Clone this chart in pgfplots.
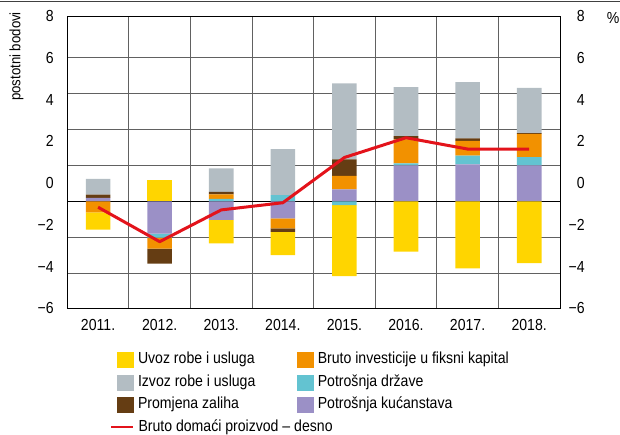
\documentclass[border=0pt]{standalone}
\usepackage{pgfplots}
\usepackage{pgfplotstable}
\pgfplotsset{compat=1.18}
\usepackage{fontspec}
\setmainfont{Liberation Sans}[FakeStretch=0.88]

\definecolor{cUvoz}{HTML}{FFD500}
\definecolor{cIzvoz}{HTML}{B3BDC3}
\definecolor{cZal}{HTML}{653D13}
\definecolor{cInv}{HTML}{F29100}
\definecolor{cDrz}{HTML}{63C3D1}
\definecolor{cKuc}{HTML}{9B90C6}
\definecolor{cBdp}{HTML}{E3131B}

% positive contributions (stacked upward from zero)
\pgfplotstableread{
x kuc drz inv zal izv uvo
0 0.19 0    0    0.18 0.88 0
1 0    0    0    0    0    1.19
2 0    0.13 0.26 0.14 1.30 0
3 0    0.35 0    0    2.56 0
4 0.67 0    0.74 0.93 4.23 0
5 2.00 0.11 1.34 0.18 2.73 0
6 2.06 0.48 0.82 0.15 3.12 0
7 2.00 0.46 1.30 0.04 2.51 0
}\posdata

% negative contributions (stacked downward from zero)
\pgfplotstableread{
x kuc drz inv zal izv uvo
0 0     0     -0.62 0     0 -0.96
1 -1.80 -0.22 -0.61 -0.84 0 0
2 -1.04 0     0     0     0 -1.30
3 -0.95 0     -0.56 -0.19 0 -1.30
4 0     -0.21 0     0     0 -3.96
5 0     0     0     0     0 -2.81
6 0     0     0     0     0 -3.73
7 0     0     0     0     0 -3.45
}\negdata

\pgfplotstableread{
x bdp
0 -0.33
1 -2.25
2 -0.48
3 -0.08
4 2.44
5 3.54
6 2.91
7 2.91
}\bdpdata

\pgfplotsset{
  base/.style={at={(67.3pt,125.7pt)}, anchor=south west, scale only axis,
    width=492.7pt, height=292.3pt, xmin=-0.5, xmax=7.5,
    font=\fontsize{16}{19}\selectfont},
  barax/.style={ybar stacked, bar width=24.6pt, ymin=-5.96, ymax=10.32},
}

\begin{document}
\begin{tikzpicture}
\useasboundingbox (0,0) rectangle (620pt,434pt);
\draw[black!75, line width=0.9pt] (0,432.3pt) -- (620pt,432.3pt);

% main axis: grid, frame, x labels, positive bars
\begin{axis}[base, barax,
  xtick={0,...,7},
  xticklabels={2011.,2012.,2013.,2014.,2015.,2016.,2017.,2018.},
  xticklabel style={inner sep=0pt, anchor=north, yshift=-11pt},
  minor xtick={0.5,1.5,...,6.5}, xminorgrids=true,
  ytick={-4,-2,2,4,6,8}, yticklabels={,,,,,}, ymajorgrids=true,
  extra y ticks={0}, extra y tick labels={},
  extra y tick style={grid style={black, line width=0.9pt}},
  major tick length=0pt, minor tick length=0pt,
  grid style={black!62, line width=0.9pt},
  minor grid style={black!62, line width=0.9pt},
  axis line style={black, line width=0.9pt},
]
\addplot[fill=cKuc, draw=none] table[x=x, y=kuc]{\posdata};
\addplot[fill=cDrz, draw=none] table[x=x, y=drz]{\posdata};
\addplot[fill=cInv, draw=none] table[x=x, y=inv]{\posdata};
\addplot[fill=cZal, draw=none] table[x=x, y=zal]{\posdata};
\addplot[fill=cIzvoz, draw=none] table[x=x, y=izv]{\posdata};
\addplot[fill=cUvoz, draw=none] table[x=x, y=uvo]{\posdata};
\end{axis}

% negative bars
\begin{axis}[base, barax, hide axis]
\addplot[fill=cKuc, draw=none] table[x=x, y=kuc]{\negdata};
\addplot[fill=cDrz, draw=none] table[x=x, y=drz]{\negdata};
\addplot[fill=cInv, draw=none] table[x=x, y=inv]{\negdata};
\addplot[fill=cZal, draw=none] table[x=x, y=zal]{\negdata};
\addplot[fill=cIzvoz, draw=none] table[x=x, y=izv]{\negdata};
\addplot[fill=cUvoz, draw=none] table[x=x, y=uvo]{\negdata};
\end{axis}

% GDP line and legend
\begin{axis}[base, ymin=-5.96, ymax=10.32, hide axis,
  legend columns=2, legend cell align=left,
  legend style={at={(0.0867,-0.1495)}, anchor=north west, draw=none, fill=none,
    inner sep=0pt, outer sep=0pt, row sep=7.2pt, column sep=4pt,
    font=\fontsize{16}{19}\selectfont,
    nodes={inner sep=0pt, text height=11.5pt, text depth=3.5pt},
    /tikz/column 2/.append style={column sep=42pt}},
]
\addlegendimage{legend image code/.code={\fill[cUvoz] (6pt,-7.5pt) rectangle (22pt,7.5pt);}}
\addlegendentry{Uvoz robe i usluga}
\addlegendimage{legend image code/.code={\fill[cInv] (6pt,-7.5pt) rectangle (22pt,7.5pt);}}
\addlegendentry{Bruto investicije u fiksni kapital}
\addlegendimage{legend image code/.code={\fill[cIzvoz] (6pt,-7.5pt) rectangle (22pt,7.5pt);}}
\addlegendentry{Izvoz robe i usluga}
\addlegendimage{legend image code/.code={\fill[cDrz] (6pt,-7.5pt) rectangle (22pt,7.5pt);}}
\addlegendentry{Potrošnja države}
\addlegendimage{legend image code/.code={\fill[cZal] (6pt,-7.5pt) rectangle (22pt,7.5pt);}}
\addlegendentry{Promjena zaliha}
\addlegendimage{legend image code/.code={\fill[cKuc] (6pt,-7.5pt) rectangle (22pt,7.5pt);}}
\addlegendentry{Potrošnja kućanstava}
\addplot[cBdp, line width=3pt, line join=round, mark=none,
  legend image code/.code={\draw[cBdp, line width=2pt] (0pt,0pt) -- (22pt,0pt);}]
  table[x=x, y=bdp]{\bdpdata};
\addlegendentry{\makebox[0pt][l]{Bruto domaći proizvod – desno}}
\end{axis}

% left tick labels
\begin{axis}[base, ymin=-6, ymax=8, hide x axis,
  axis line style={draw=none}, major tick length=0pt,
  ytick={-6,-4,-2,0,2,4,6,8},
  yticklabels={−6,−4,−2,0,2,4,6,8},
  yticklabel pos=left,
  yticklabel style={anchor=east, inner sep=0pt, xshift=-13.3pt},
]
\end{axis}
% right tick labels
\begin{axis}[base, ymin=-6, ymax=8, hide x axis,
  axis line style={draw=none}, major tick length=0pt,
  ytick={-6,-4,-2,0,2,4,6,8},
  yticklabels={−6,−4,−2,0,2,4,6,8},
  yticklabel pos=right,
  yticklabel style={anchor=east, inner sep=0pt, xshift=25pt},
]
\end{axis}

\node[font=\fontsize{16}{19}\selectfont, inner sep=0pt] at (613pt,416pt) {\%};
\node[font=\fontsize{15}{18}\selectfont, inner sep=0pt, rotate=90] at (16.5pt,377.5pt) {postotni bodovi};
\end{tikzpicture}
\end{document}
